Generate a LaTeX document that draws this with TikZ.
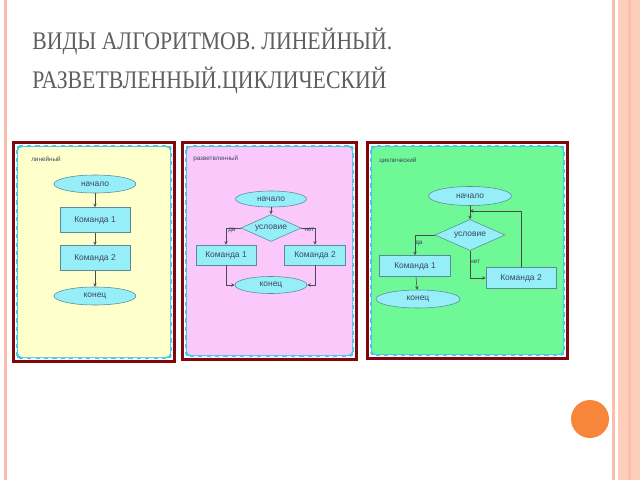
\documentclass[tikz,border=0pt]{standalone}
\usepackage{fontspec}
\setmainfont{Liberation Sans}
\newfontfamily\titlefont[FakeStretch=0.86]{Liberation Serif}
\usetikzlibrary{shapes.geometric,arrows.meta}
\definecolor{framered}{RGB}{128,8,12}
\definecolor{edgecyan}{RGB}{70,200,230}
\definecolor{yellowbg}{RGB}{255,255,204}
\definecolor{pinkbg}{RGB}{250,200,250}
\definecolor{greenbg}{RGB}{110,248,150}
\definecolor{shapefill}{RGB}{150,238,248}
\definecolor{shapeline}{RGB}{90,140,150}
\definecolor{inktext}{RGB}{60,70,95}
\definecolor{titlegray}{RGB}{95,95,95}
\definecolor{peach}{RGB}{253,206,186}
\definecolor{peachline}{RGB}{250,190,170}
\definecolor{orangedot}{RGB}{248,134,58}
\begin{document}
\begin{tikzpicture}
[x=0.025cm,y=-0.025cm,
 term/.style={ellipse,draw=shapeline,fill=shapefill,inner sep=0pt,text=inktext,font=\fontsize{6}{7}\selectfont},
 cmd/.style={rectangle,draw=shapeline,fill=shapefill,inner sep=0pt,text=inktext,font=\fontsize{6}{7}\selectfont},
 test/.style={diamond,draw=shapeline,fill=shapefill,inner sep=0pt,aspect=2.2,text=inktext,font=\fontsize{6}{7}\selectfont},
 tag/.style={text=inktext,inner sep=0pt,font=\fontsize{4.5}{5}\selectfont},
 flow/.style={draw=black!70,line width=0.4pt,-{Stealth[length=2.5pt,width=2.5pt]}}]
\useasboundingbox[fill=white] (0,0) rectangle (640,480);
\fill[peachline] (4,0) rectangle (7,480);
\fill[peachline] (612,0) rectangle (615,480);
\fill[peach] (618,0) rectangle (640,480);
\fill[peachline] (628,0) rectangle (631,480);
\fill[orangedot] (590,419) circle (19);
\node[anchor=base west,inner sep=0pt,text=titlegray,font=\titlefont\fontsize{18}{20}\selectfont] (title1) at (32,50) {ВИДЫ АЛГОРИТМОВ. ЛИНЕЙНЫЙ.};
\node[anchor=base west,inner sep=0pt,text=titlegray,font=\titlefont\fontsize{18}{20}\selectfont] (title2) at (32,89) {РАЗВЕТВЛЕННЫЙ.ЦИКЛИЧЕСКИЙ};
\foreach \xa/\xb/\yb/\col in {12/176/363/yellowbg,181/358/361/pinkbg,366/569/360/greenbg}
{
\fill[framered] (\xa,141) rectangle (\xb,\yb);
\fill[white] (\xa+3,144) rectangle (\xb-3,\yb-3);
\fill[edgecyan,rounded corners=3] (\xa+4,145) rectangle (\xb-4,\yb-4);
\fill[\col,rounded corners=3] (\xa+6,147) rectangle (\xb-6,\yb-6);
\draw[white,dashed,line width=0.3pt] (\xa+4.5,145.5) rectangle (\xb-4.5,\yb-4.5);
}
\node[tag,anchor=west] (lbl1) at (31,159) {линейный};
\node[term,minimum width=2.05cm,minimum height=0.45cm] (a1s) at (95,184) {начало};
\node[cmd,minimum width=1.75cm,minimum height=0.625cm] (a1c1) at (95,220) {Команда 1};
\node[cmd,minimum width=1.75cm,minimum height=0.625cm] (a1c2) at (95,258) {Команда 2};
\node[term,minimum width=2.05cm,minimum height=0.45cm] (a1e) at (95,296) {конец};
\draw[flow] (a1s) -- (a1c1);
\draw[flow] (a1c1) -- (a1c2);
\draw[flow] (a1c2) -- (a1e);
\node[tag,anchor=west] (lbl2) at (193,159) {разветвленный};
\node[term,minimum width=1.775cm,minimum height=0.4cm] (b2s) at (271,199) {начало};
\node[test,minimum width=1.5cm,minimum height=0.675cm] (b2if) at (271,228) {условие};
\node[cmd,minimum width=1.5cm,minimum height=0.5cm] (b2c1) at (226,255) {Команда 1};
\node[cmd,minimum width=1.525cm,minimum height=0.5cm] (b2c2) at (315,255) {Команда 2};
\node[term,minimum width=1.8cm,minimum height=0.425cm] (b2e) at (271,285) {конец};
\draw[flow] (b2s) -- (b2if);
\draw[flow] (b2if.west) -| node[tag,pos=0.3,below] (b2yes) {да} (b2c1);
\draw[flow] (b2if.east) -| node[tag,pos=0.3,below] (b2no) {нет} (b2c2);
\draw[flow] (b2c1) |- (b2e);
\draw[flow] (b2c2) |- (b2e);
\node[tag,anchor=west] (lbl3) at (379,161) {циклический};
\node[term,minimum width=2.075cm,minimum height=0.475cm] (c3s) at (470,196) {начало};
\node[test,minimum width=1.75cm,minimum height=0.775cm] (c3if) at (470,235) {условие};
\node[cmd,minimum width=1.775cm,minimum height=0.525cm] (c3c1) at (415,266) {Команда 1};
\node[cmd,minimum width=1.75cm,minimum height=0.525cm] (c3c2) at (521,278) {Команда 2};
\node[term,minimum width=2.1cm,minimum height=0.45cm] (c3e) at (418,299) {конец};
\coordinate (c3j) at (470,211);
\draw[flow] (c3s) -- (c3if);
\draw[flow] (c3if.west) -| node[tag,pos=0.7,right] (c3yes) {да} (c3c1);
\draw[flow] (c3if.south) |- node[tag,pos=0.2,right] (c3no) {нет} (c3c2);
\draw[flow] (c3c1) -- (c3e);
\draw[flow] (c3c2) |- (c3j);
\end{tikzpicture}
\end{document}
